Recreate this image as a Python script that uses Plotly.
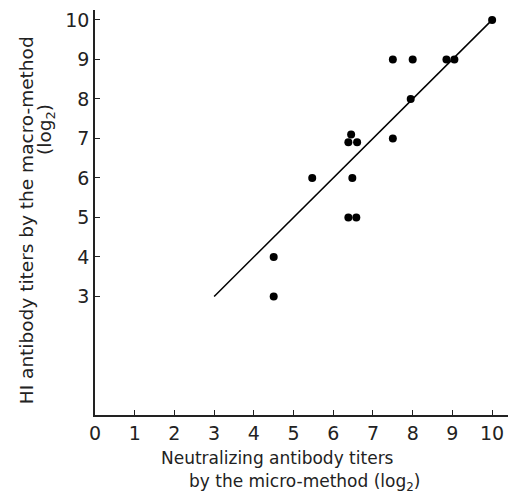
import plotly.graph_objects as go

neut_x = [10.0, 7.5, 8.0, 8.85, 9.05, 7.95, 6.45, 6.38, 6.6, 7.5, 5.47, 6.48, 6.38, 6.58, 4.5, 4.5]
hi_y = [10.0, 9.0, 9.0, 9.0, 9.0, 8.0, 7.1, 6.9, 6.9, 7.0, 6.0, 6.0, 5.0, 5.0, 4.0, 3.0]
line_x = [3, 10]
line_y = [3, 10]
x_ticks = list(range(0, 11))
y_ticks = list(range(3, 11))

font = "DejaVu Sans"
fig = go.Figure()
fig.add_trace(go.Scatter(x=line_x, y=line_y, mode="lines",
                         line=dict(color="black", width=1.5), showlegend=False))
fig.add_trace(go.Scatter(x=neut_x, y=hi_y, mode="markers",
                         marker=dict(color="black", size=8), showlegend=False))

def ann(size):
    return dict(xref="paper", yref="paper", showarrow=False,
                font=dict(family=font, size=size, color="#222"))

fig.add_annotation(text="Neutralizing antibody titers", x=0.441, y=0, yshift=-43,
                   xanchor="center", yanchor="middle", **ann(17))
fig.add_annotation(text="by the micro-method (log<sub>2</sub>)", x=0.508, y=0, yshift=-67,
                   xanchor="center", yanchor="middle", **ann(17))
fig.add_annotation(text="HI antibody titers by the macro-method", x=0, xshift=-69, y=0.481,
                   textangle=-90, xanchor="center", yanchor="middle", **ann(18.5))
fig.add_annotation(text="(log<sub>2</sub>)", x=0, xshift=-49, y=0.704,
                   textangle=-90, xanchor="center", yanchor="middle", **ann(18.5))

fig.update_layout(
    width=517, height=498,
    margin=dict(l=95, r=9, t=10, b=83),
    paper_bgcolor="white", plot_bgcolor="white",
    font=dict(family=font, size=19, color="#222"),
    xaxis=dict(range=[0, 10.4], tickvals=x_ticks, ticktext=[str(v) for v in x_ticks],
               showgrid=False, zeroline=False, showline=True, linecolor="#222", linewidth=1.5,
               ticks="inside", ticklen=5, tickcolor="#222"),
    yaxis=dict(range=[0, 10.25], tickvals=y_ticks, ticktext=[str(v) for v in y_ticks],
               showgrid=False, zeroline=False, showline=True, linecolor="#222", linewidth=1.5,
               ticks="inside", ticklen=5, tickcolor="#222"),
)
fig.write_html("out.html")
